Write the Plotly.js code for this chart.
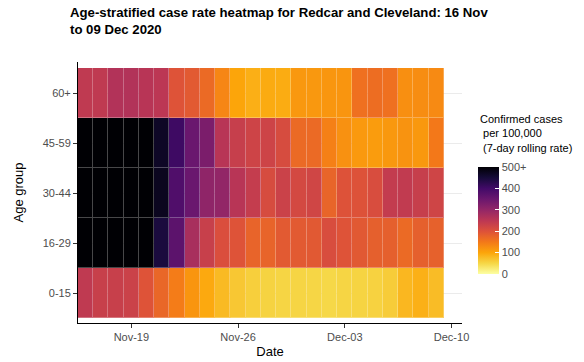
<!DOCTYPE html>
<html>
<head>
<meta charset="utf-8">
<script src="https://cdn.plot.ly/plotly-3.0.1.min.js"></script>
<style>html,body{margin:0;padding:0;background:#fff;}#chart{width:584px;height:362px;}</style>
</head>
<body>
<div id="chart"></div>
<script>
// Dates (7-day rolling rate reported per day)
const dates = ['2020-11-16','2020-11-17','2020-11-18','2020-11-19','2020-11-20','2020-11-21','2020-11-22',
  '2020-11-23','2020-11-24','2020-11-25','2020-11-26','2020-11-27','2020-11-28','2020-11-29',
  '2020-11-30','2020-12-01','2020-12-02','2020-12-03','2020-12-04','2020-12-05','2020-12-06',
  '2020-12-07','2020-12-08','2020-12-09'];

const ageGroups = ['0-15','16-29','30-44','45-59','60+'];

// Confirmed cases per 100,000 (7-day rolling rate)
const age0_15  = [245,233,233,229,197,172,146,118,96,79,66,58,54,52,52,51,49,52,53,55,61,82,89,77];
const age16_29 = [520,520,520,520,520,445,367,274,233,205,197,176,176,188,188,190,208,197,190,181,181,168,181,179];
const age30_44 = [520,520,520,520,505,475,383,350,305,301,255,238,210,229,215,221,174,199,199,208,240,242,235,223];
const age45_59 = [520,520,520,520,520,468,405,350,329,255,235,225,225,210,168,168,141,122,113,110,114,120,114,150];
const age60p   = [245,245,262,262,255,250,197,188,168,135,100,90,94,93,115,115,117,118,160,164,160,124,127,130];

const zRows = [age0_15, age16_29, age30_44, age45_59, age60p];

const cbTickVals = [0,100,200,300,400,500];
const cbTickText = ['0','100','200','300','400','500+'];

// inferno, reversed (0 = pale yellow, 500+ = black)
const infernoRev = [
  [0.0,'#fcffa4'],[0.1,'#f6d746'],[0.2,'#fca50a'],[0.3,'#f37819'],[0.4,'#dd513a'],
  [0.5,'#bc3754'],[0.6,'#932667'],[0.7,'#6a176e'],[0.8,'#420a68'],[0.9,'#160b39'],[1.0,'#000004']
];

const font = 'Liberation Sans, Arial, sans-serif';

// underlying faded copy: shows through the cell gaps as light separators
const under = {
  type:'heatmap', x:dates, y:ageGroups, z:zRows,
  zmin:0, zmax:500, colorscale:infernoRev, showscale:false,
  opacity:0.72, hoverinfo:'skip'
};
const cells = {
  type:'heatmap', x:dates, y:ageGroups, z:zRows,
  zmin:0, zmax:500, colorscale:infernoRev, xgap:1, ygap:1,
  colorbar:{
    x:1.0417, xanchor:'left', xpad:0,
    y:0.3927, yanchor:'middle', ypad:0,
    len:107, lenmode:'pixels', thickness:21,
    outlinewidth:0,
    tickvals:cbTickVals, ticktext:cbTickText,
    ticks:'inside', ticklen:4, tickcolor:'#ffffff',
    tickfont:{family:font, size:11, color:'#4d4d4d'},
    title:{text:''}
  }
};

const layout = {
  width:584, height:362,
  margin:{l:78, r:122, t:62, b:39},
  paper_bgcolor:'#ffffff', plot_bgcolor:'#ffffff',
  font:{family:font, color:'#000000'},
  title:{
    text:'<b>Age-stratified case rate heatmap for Redcar and Cleveland: 16 Nov<br>to 09 Dec 2020</b>',
    x:70/584, xref:'container', xanchor:'left',
    y:1-17/362, yref:'container', yanchor:'top',
    font:{family:font, size:13.2, color:'#000000'}
  },
  xaxis:{
    type:'date',
    range:['2020-11-15 12:00','2020-12-10 16:30'],
    tick0:'2020-11-19', dtick:7*24*3600*1000, tickformat:'%b-%d',
    ticks:'outside', ticklen:4, tickcolor:'#333333',
    tickfont:{family:font, size:11, color:'#4d4d4d'},
    showline:true, linecolor:'#000000', linewidth:1,
    showgrid:false, zeroline:false,
    title:{text:'Date', font:{family:font, size:13, color:'#000000'}, standoff:4}
  },
  yaxis:{
    type:'category',
    range:[-0.6, 4.62],
    ticks:'outside', ticklen:4, tickcolor:'#333333',
    tickfont:{family:font, size:11, color:'#4d4d4d'},
    showline:true, linecolor:'#000000', linewidth:1,
    showgrid:true, gridcolor:'#ebebeb', gridwidth:1, zeroline:false,
    title:{text:'Age group', font:{family:font, size:13, color:'#000000'}, standoff:16}
  },
  annotations:[{
    text:'Confirmed cases<br>\u00a0per 100,000<br>\u00a0(7-day rolling rate)',
    xref:'paper', yref:'paper', x:1.0417, y:(323-111)/261,
    xanchor:'left', yanchor:'top', align:'left', showarrow:false,
    font:{family:font, size:11, color:'#000000'}
  }]
};

Plotly.newPlot('chart', [under, cells], layout, {displayModeBar:false, staticPlot:true});
</script>
</body>
</html>
